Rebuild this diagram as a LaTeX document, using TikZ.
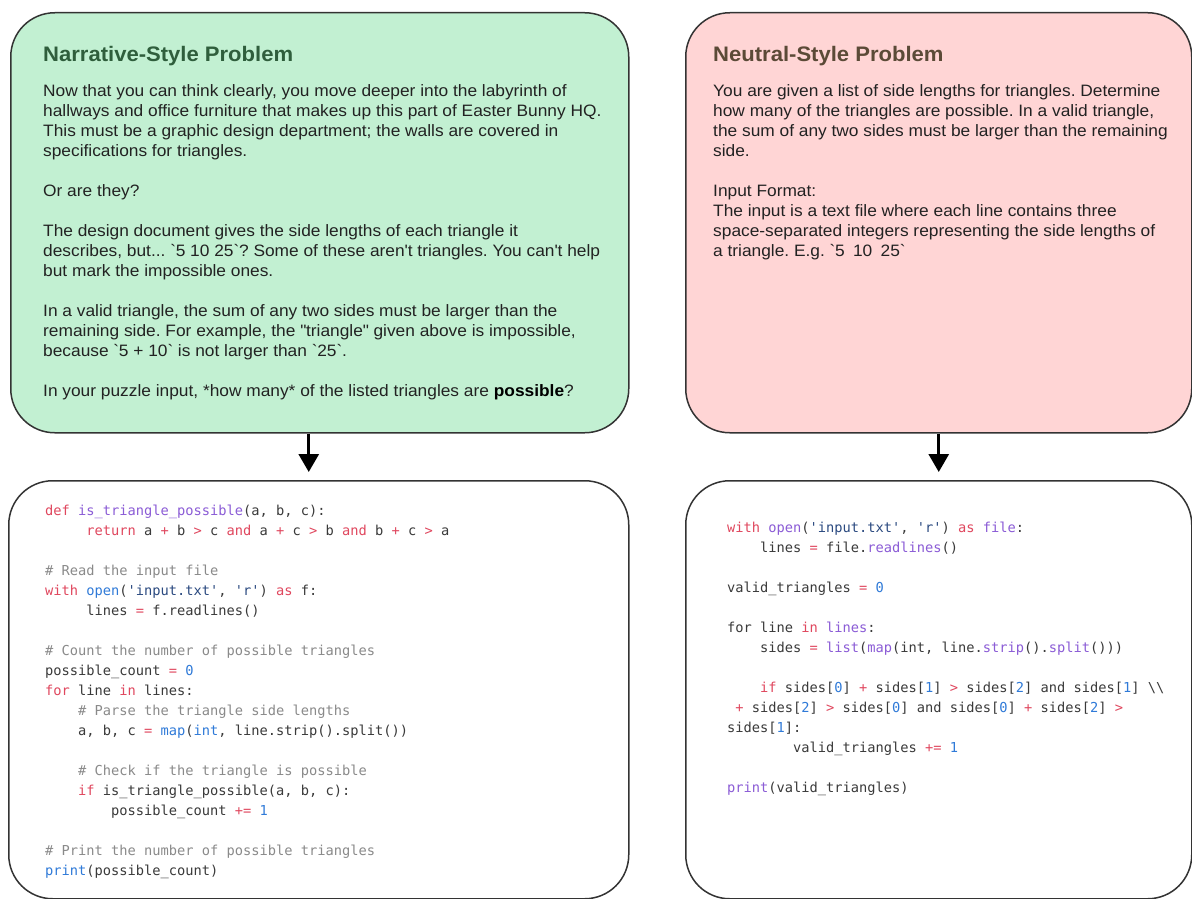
\documentclass[tikz,border=0pt]{standalone}
\usepackage{fontspec}
\setmainfont{Liberation Sans}[FakeStretch=1.05]
\setmonofont{DejaVu Sans Mono}
\usetikzlibrary{arrows.meta}
\definecolor{gfill}{HTML}{C2F0D2}
\definecolor{pfill}{HTML}{FFD5D5}
\definecolor{edgec}{HTML}{333333}
\definecolor{gtitle}{HTML}{2F5E3C}
\definecolor{ptitle}{HTML}{5B4A37}
\definecolor{bodyc}{HTML}{222222}
\definecolor{ckwc}{HTML}{E0475E}
\definecolor{cfnc}{HTML}{8B5CD6}
\definecolor{cblc}{HTML}{2F7AD8}
\definecolor{cstrc}{HTML}{2B4A80}
\definecolor{ccmc}{HTML}{8A8A8A}
\definecolor{ctxt}{HTML}{3A3A3A}
\newcommand\ckw[1]{\textcolor{ckwc}{#1}}
\newcommand\cfn[1]{\textcolor{cfnc}{#1}}
\newcommand\cbl[1]{\textcolor{cblc}{#1}}
\newcommand\cstr[1]{\textcolor{cstrc}{#1}}
\newcommand\ccm[1]{\textcolor{ccmc}{#1}}
\newcommand\ind[1]{\hspace*{\dimexpr\fontcharwd\font`0*#1\relax}}
\newcommand\bq{\textasciigrave}
\tikzset{
  box/.style={draw=edgec, line width=1.5pt, rounded corners=44pt, inner sep=0pt, anchor=north west},
  title/.style={anchor=base west, inner sep=0pt, font=\fontsize{21}{24}\selectfont\bfseries},
  txt/.style={anchor=north west, inner sep=0pt, align=left, text=bodyc, font=\fontsize{16.5}{20}\selectfont\frenchspacing},
  code/.style={anchor=north west, inner sep=0pt, align=left, text=ctxt, font=\fontsize{13.7}{20}\selectfont\ttfamily\frenchspacing},
  arr/.style={line width=3pt, -{Triangle[width=20pt,length=18pt]}, shorten >=8pt}
}
\begin{document}
\begin{tikzpicture}[x=1pt,y=-1pt]
\useasboundingbox (0,0) rectangle (1192,899);
% boxes
\node[box, fill=gfill, minimum width=618pt, minimum height=420pt] (g) at (10,12) {};
\node[box, fill=pfill, minimum width=506pt, minimum height=420pt] (p) at (685,12) {};
\node[box, fill=white, minimum width=620pt, minimum height=418pt] (cl) at (8,480) {};
\node[box, fill=white, minimum width=506pt, minimum height=418pt] (cr) at (685,480) {};
% titles
\node[title, text=gtitle] (gt) at (43,62) {Narrative-Style Problem};
\node[title, text=ptitle] (pt) at (713,62) {Neutral-Style Problem};
% narrative text
\node[txt] (g1) at (43,82) {\strut Now that you can think clearly, you move deeper into the labyrinth of\\
\strut hallways and office furniture that makes up this part of Easter Bunny HQ.\\
\strut This must be a graphic design department; the walls are covered in\\
\strut specifications for triangles.};
\node[txt] (g2) at (43,182) {\strut Or are they?};
\node[txt] (g3) at (43,222) {\strut The design document gives the side lengths of each triangle it\\
\strut describes, but... \bq 5 10 25\bq ? Some of these aren\textquotesingle t triangles. You can\textquotesingle t help\\
\strut but mark the impossible ones.};
\node[txt] (g4) at (43,302) {\strut In a valid triangle, the sum of any two sides must be larger than the\\
\strut remaining side. For example, the \textquotedbl triangle\textquotedbl\ given above is impossible,\\
\strut because \bq 5 + 10\bq\ is not larger than \bq 25\bq .};
\node[txt] (g5) at (43,382) {\strut In your puzzle input, *how many* of the listed triangles are \textbf{\color{black}possible}?};
% neutral text
\node[txt] (p1) at (713,82) {\strut You are given a list of side lengths for triangles. Determine\\
\strut how many of the triangles are possible. In a valid triangle,\\
\strut the sum of any two sides must be larger than the remaining\\
\strut side.};
\node[txt] (p2) at (713,182) {\strut Input Format:\\
\strut The input is a text file where each line contains three\\
\strut space-separated integers representing the side lengths of\\
\strut a triangle. E.g. \bq 5\enspace 10\enspace 25\bq};
% left code
\node[code] (lc) at (45,501) {\strut\ckw{def} \cfn{is\_triangle\_possible}(a, b, c):\\
\strut\ind{5}\ckw{return} a \ckw{+} b \ckw{>} c \ckw{and} a \ckw{+} c \ckw{>} b \ckw{and} b \ckw{+} c \ckw{>} a\\
\strut\\
\strut\ccm{\# Read the input file}\\
\strut\ckw{with} \cbl{open}(\cstr{'input.txt'}, \cstr{'r'}) \ckw{as} f:\\
\strut\ind{5}lines \ckw{=} f.readlines()\\
\strut\\
\strut\ccm{\# Count the number of possible triangles}\\
\strut possible\_count \ckw{=} \cbl{0}\\
\strut\ckw{for} line \ckw{in} lines:\\
\strut\ind{4}\ccm{\# Parse the triangle side lengths}\\
\strut\ind{4}a, b, c \ckw{=} \cbl{map}(\cbl{int}, line.strip().split())\\
\strut\\
\strut\ind{4}\ccm{\# Check if the triangle is possible}\\
\strut\ind{4}\ckw{if} is\_triangle\_possible(a, b, c):\\
\strut\ind{8}possible\_count \ckw{+=} \cbl{1}\\
\strut\\
\strut\ccm{\# Print the number of possible triangles}\\
\strut\cbl{print}(possible\_count)};
% right code
\node[code] (rc) at (727,518) {\strut\ckw{with} \cfn{open}(\cstr{'input.txt'}, \cstr{'r'}) \ckw{as} \cfn{file}:\\
\strut\ind{4}lines \ckw{=} file.\cfn{readlines}()\\
\strut\\
\strut valid\_triangles \ckw{=} \cbl{0}\\
\strut\\
\strut for line \ckw{in} \cfn{lines}:\\
\strut\ind{4}sides \ckw{=} \cfn{list}(\cfn{map}(int, line.\cfn{strip}().\cfn{split}()))\\
\strut\\
\strut\ind{4}\ckw{if} sides[\cbl{0}] \ckw{+} sides[\cbl{1}] \ckw{>} sides[\cbl{2}] and sides[\cbl{1}] \textbackslash\textbackslash\\
\strut\ind{1}\ckw{+} sides[\cbl{2}] \ckw{>} sides[\cbl{0}] and sides[\cbl{0}] \ckw{+} sides[\cbl{2}] \ckw{>}\\
\strut sides[\cbl{1}]:\\
\strut\ind{8}valid\_triangles \ckw{+=} \cbl{1}\\
\strut\\
\strut\cfn{print}(valid\_triangles)};
% arrows
\draw[arr] ([xshift=-11pt]g.south) -- ([xshift=-10pt]cl.north);
\draw[arr] (p.south) -- (cr.north);
\end{tikzpicture}
\end{document}
